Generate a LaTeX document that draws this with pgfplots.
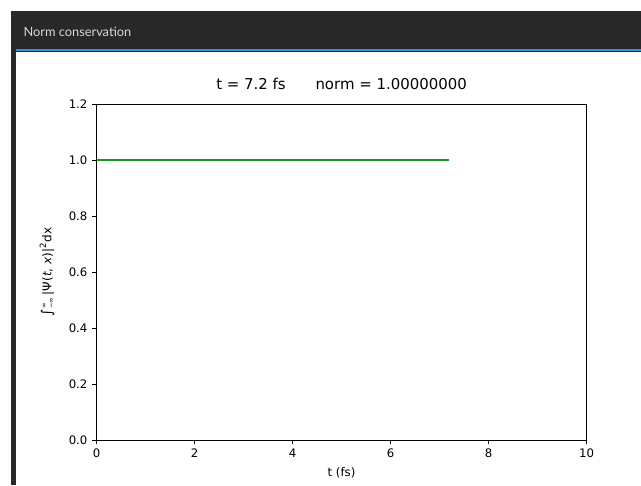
\documentclass[border=0pt]{standalone}
\usepackage{pgfplots}
\pgfplotsset{compat=1.18}
\usepackage{fontspec}
\setmainfont{DejaVu Sans}
\newfontfamily\uifont{Lato}
\definecolor{barbg}{HTML}{282828}
\definecolor{accent}{HTML}{2E9BD6}
\definecolor{uitext}{HTML}{D8D8D8}
\definecolor{normgreen}{HTML}{1A9A1A}

\begin{document}
\begin{tikzpicture}
% window frame
\fill[white] (0,0) rectangle (480.75pt,363.75pt);
\fill[barbg] (8.25pt,327pt) rectangle (480.75pt,355.5pt);
\fill[barbg] (8.25pt,0pt) rectangle (12pt,355.5pt);
\fill[accent] (12pt,325.5pt) rectangle (480.75pt,327.2pt);
\fill[barbg!80!black] (12pt,324.8pt) rectangle (480.75pt,325.5pt);
\node[anchor=west, text=uitext, inner sep=0pt, font=\uifont\fontsize{9.6}{10}\selectfont]
  at (17.5pt,339.5pt) {Norm conservation};

\begin{axis}[
  at={(72.4pt,33.75pt)}, anchor=south west,
  scale only axis, width=367.5pt, height=252pt,
  xmin=0, xmax=10, ymin=0, ymax=1.2,
  xtick={0,2,4,6,8,10},
  ytick={0,0.2,0.4,0.6,0.8,1.0,1.2},
  tick align=outside, tick pos=left,
  major tick length=3.3pt,
  every tick/.style={black, line width=0.6pt},
  axis line style={black, line width=0.6pt},
  /pgf/number format/assume math mode=true,
  tick label style={font=\fontsize{8.8}{10}\selectfont},
  yticklabel style={/pgf/number format/.cd, fixed, fixed zerofill, precision=1},
  xticklabel style={/pgf/number format/.cd, fixed, precision=0},
  title={t = 7.2 fs\hspace{2em}norm = 1.00000000},
  title style={at={(0.5,1)}, anchor=base, yshift=4.5pt, font=\fontsize{11.2}{13}\selectfont},
  xlabel={t (fs)},
  xlabel style={font=\fontsize{8.8}{10}\selectfont},
  ylabel={{\fontsize{10.5}{11}\selectfont ∫}$^{\mbox{\fontsize{5}{6}\selectfont ∞}}_{\mbox{\fontsize{5}{6}\selectfont −∞}}$\,|Ψ(\textit{t}, \textit{x})|$^{\mbox{\fontsize{6.5}{7}\selectfont 2}}$dx},
  ylabel style={at={(axis description cs:-0.101,0.5)}, anchor=center, rotate=0, font=\fontsize{9}{10}\selectfont},
]
\addplot[normgreen, line width=1.5pt] coordinates {
  (0,1.0) (1.2,1.0) (2.4,1.0) (3.6,1.0) (4.8,1.0) (6.0,1.0) (7.2,1.0)
};
\end{axis}
\end{tikzpicture}
\end{document}
